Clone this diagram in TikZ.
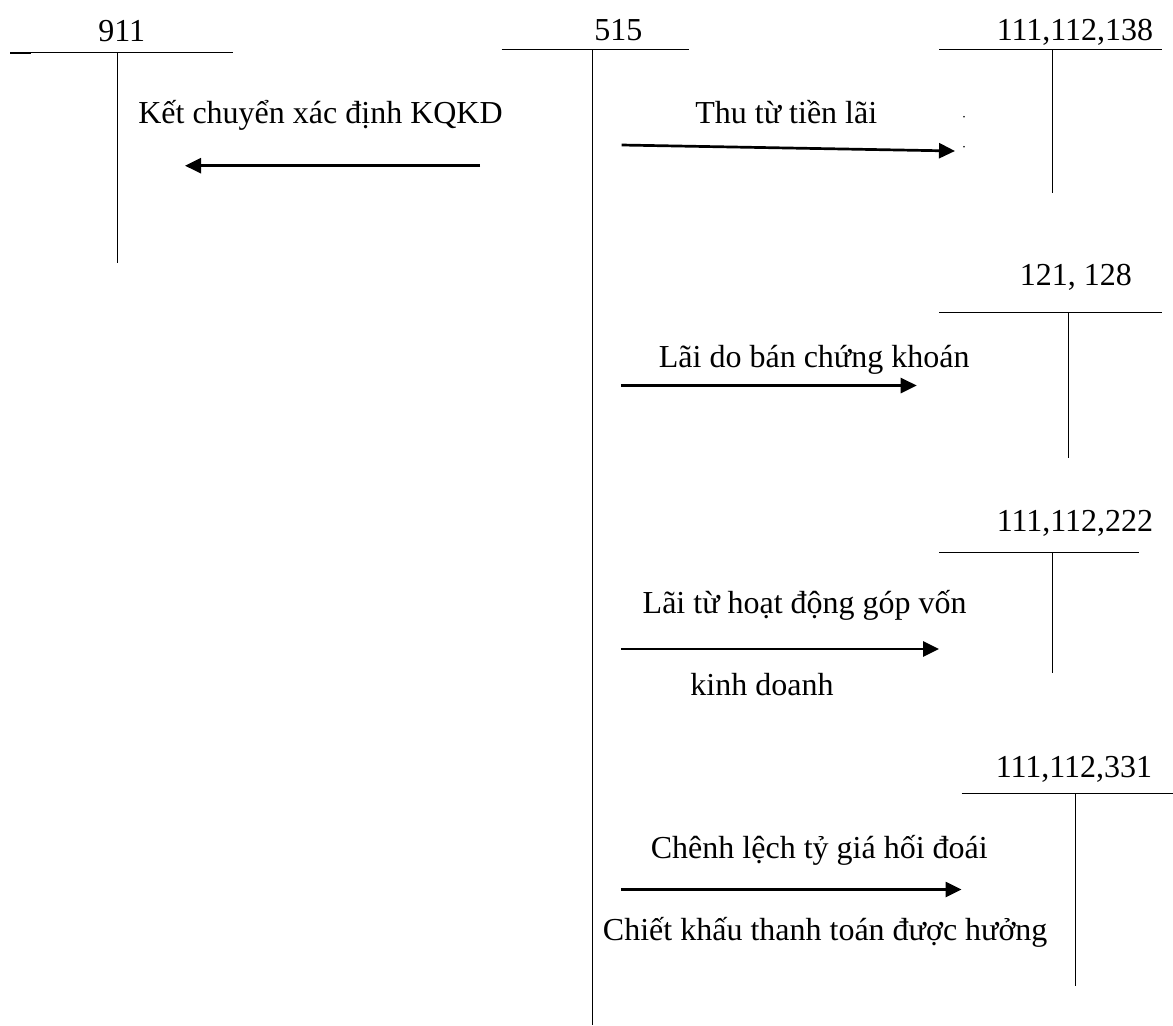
\documentclass[tikz,border=0pt]{standalone}
\usepackage{fontspec}
\setmainfont{Liberation Serif}
\usetikzlibrary{arrows.meta}
\begin{document}
\begin{tikzpicture}[x=0.5pt,y=-0.5pt,
  acct/.style={line width=0.75pt,line cap=butt},
  flow/.style={line width=1.35pt,-{Triangle[length=8pt,width=7.5pt]}},
  lbl/.style={anchor=base,inner sep=0pt,font=\fontsize{16}{19}\selectfont}]
\useasboundingbox[fill=white] (0,0) rectangle (1173,1025);

% --- account 911 ---
\node[lbl] (t911) at (121.7,41.7) {911};
\coordinate (a911l) at (10,52.7);
\coordinate (a911r) at (233.3,52.7);
\coordinate (a911t) at (117.7,52.7);
\coordinate (a911b) at (117.7,262.7);
\draw[acct] (a911l) -- (a911r);
\draw[acct] (a911t) -- (a911b);
\draw[line width=1.1pt] (10,53.2) -- (31,53.2);

% --- account 515 ---
\node[lbl] (t515) at (618.3,40.7) {515};
\coordinate (a515l) at (501.7,49.3);
\coordinate (a515r) at (689,49.3);
\coordinate (a515t) at (592.3,49.3);
\coordinate (a515b) at (592.3,1025);
\draw[acct] (a515l) -- (a515r);
\draw[acct] (a515t) -- (a515b);

% --- account 111,112,138 ---
\node[lbl] (t138) at (1075,40.7) {111,112,138};
\coordinate (a138l) at (939,49.3);
\coordinate (a138r) at (1162.3,49.3);
\coordinate (a138t) at (1052.7,49.3);
\coordinate (a138b) at (1052.7,193.3);
\draw[acct] (a138l) -- (a138r);
\draw[acct] (a138t) -- (a138b);

% --- account 121, 128 ---
\node[lbl] (t121) at (1075.8,285) {121, 128};
\coordinate (a121l) at (939,312.7);
\coordinate (a121r) at (1162.3,312.7);
\coordinate (a121t) at (1068.3,312.7);
\coordinate (a121b) at (1068.3,458.3);
\draw[acct] (a121l) -- (a121r);
\draw[acct] (a121t) -- (a121b);

% --- account 111,112,222 ---
\node[lbl] (t222) at (1075,531.7) {111,112,222};
\coordinate (a222l) at (939,552.7);
\coordinate (a222r) at (1139.3,552.7);
\coordinate (a222t) at (1052.7,552.7);
\coordinate (a222b) at (1052.7,673.3);
\draw[acct] (a222l) -- (a222r);
\draw[acct] (a222t) -- (a222b);

% --- account 111,112,331 ---
\node[lbl] (t331) at (1074,777.3) {111,112,331};
\coordinate (a331l) at (961.7,793.3);
\coordinate (a331r) at (1173,793.3);
\coordinate (a331t) at (1075.7,793.3);
\coordinate (a331b) at (1075.7,985.7);
\draw[acct] (a331l) -- (a331r);
\draw[acct] (a331t) -- (a331b);

% --- transfers ---
\node[lbl] (kc) at (320.5,123.3) {Kết chuyển xác định KQKD};
\coordinate (kcs) at (480,165.7);
\coordinate (kce) at (185,165.7);
\draw[flow] (kcs) -- (kce);

\node[lbl] (thu) at (786.3,123.3) {Thu từ tiền lãi};
\coordinate (thus) at (621.7,145);
\coordinate (thue) at (955,151);
\draw[flow] (thus) -- (thue);
\fill (964,116.7) circle (0.8);
\fill (964,146.7) circle (0.8);

\node[lbl] (ck) at (814.2,367.3) {Lãi do bán chứng khoán};
\coordinate (cks) at (620.8,385.5);
\coordinate (cke) at (916.7,385.5);
\draw[flow] (cks) -- (cke);

\node[lbl] (gv1) at (804.7,613.3) {Lãi từ hoạt động góp vốn};
\node[lbl] (gv2) at (762,695) {kinh doanh};
\coordinate (gvs) at (620.8,649);
\coordinate (gve) at (939,649);
\draw[flow] (gvs) -- (gve);

\node[lbl] (tg1) at (819.3,858.3) {Chênh lệch tỷ giá hối đoái};
\node[lbl] (tg2) at (825.2,940) {Chiết khấu thanh toán được hưởng};
\coordinate (tgs) at (620.8,889.5);
\coordinate (tge) at (961.5,889.5);
\draw[flow] (tgs) -- (tge);
\end{tikzpicture}
\end{document}
